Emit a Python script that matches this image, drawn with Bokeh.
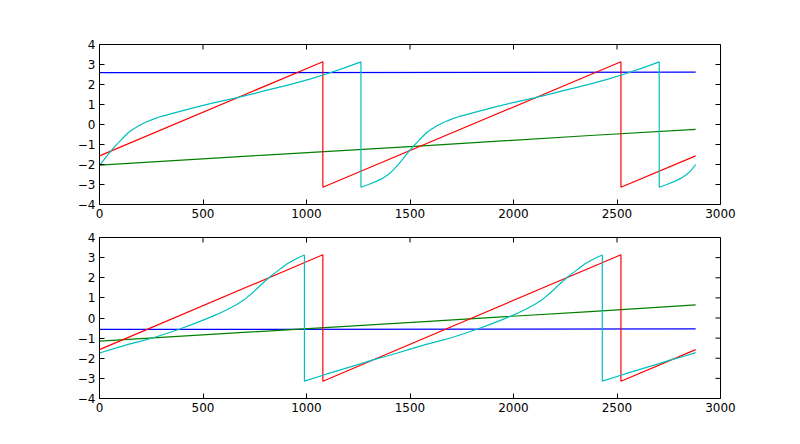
from bokeh.plotting import figure
from bokeh.layouts import column
from bokeh.models import Range1d, FixedTicker, CustomJSTickFormatter
from bokeh.embed import file_html
from bokeh.resources import INLINE

# ---------------- data ----------------
x_ticks = [0, 500, 1000, 1500, 2000, 2500, 3000]
y_ticks = [-4, -3, -2, -1, 0, 1, 2, 3, 4]

# red sawtooth (same in both panels)
red_x = [0, 1079, 1079, 2519, 2519, 2880]
red_y = [-1.57, 3.14, -3.14, 3.14, -3.14, -1.57]

# top panel
top_blue_x = [0, 2880]
top_blue_y = [2.59, 2.62]
top_green_x = [0, 800, 1600, 2370, 2880]
top_green_y = [-2.03, -1.53, -1.04, -0.55, -0.24]
top_cyan_x = [0, 20, 40, 60, 80, 100, 120, 140, 160, 190, 220, 260, 300, 380, 462,
              550, 655, 720, 800, 870, 937, 1020, 1099, 1180, 1263,
              1263, 1300, 1340, 1370, 1395, 1415, 1441,
              1461, 1481, 1501, 1521, 1541, 1561, 1581, 1601, 1631, 1661, 1701, 1741,
              1821, 1903, 1991, 2096, 2161, 2241, 2311, 2378, 2461, 2540, 2621, 2704,
              2704, 2741, 2781, 2811, 2836, 2856, 2880]
top_cyan_y = [-2.04, -1.78, -1.52, -1.27, -1.03, -0.82, -0.6, -0.4, -0.25, -0.06, 0.1, 0.27, 0.41, 0.63, 0.86,
              1.08, 1.32, 1.48, 1.69, 1.87, 2.04, 2.28, 2.54, 2.82, 3.13,
              -3.14, -3.0, -2.83, -2.68, -2.5, -2.32, -2.03,
              -1.78, -1.52, -1.27, -1.03, -0.82, -0.6, -0.4, -0.25, -0.06, 0.1, 0.27, 0.41,
              0.63, 0.86, 1.08, 1.32, 1.48, 1.69, 1.87, 2.04, 2.28, 2.54, 2.82, 3.13,
              -3.14, -3.0, -2.83, -2.68, -2.5, -2.32, -2.0]

# bottom panel
bot_blue_x = [0, 2880]
bot_blue_y = [-0.57, -0.54]
bot_green_x = [0, 1550, 2370, 2880]
bot_green_y = [-1.15, -0.19, 0.32, 0.65]
bot_cyan_x = [0, 70, 139, 200, 260, 320, 381, 445, 510, 570, 623, 665, 704, 737, 768,
              800, 830, 853, 873, 905, 937, 965, 990,
              990, 1099, 1180, 1260, 1325, 1389, 1439,
              1509, 1578, 1639, 1699, 1759, 1820, 1884, 1949, 2009, 2062, 2104, 2143,
              2176, 2207, 2239, 2269, 2292, 2312, 2344, 2376, 2404, 2429,
              2429, 2538, 2619, 2699, 2764, 2828, 2880]
bot_cyan_y = [-1.74, -1.52, -1.31, -1.15, -0.98, -0.78, -0.57, -0.33, -0.07, 0.19, 0.45, 0.68, 0.95, 1.23, 1.53,
              1.84, 2.1, 2.28, 2.44, 2.68, 2.87, 3.02, 3.13,
              -3.14, -2.78, -2.53, -2.28, -2.07, -1.89, -1.74,
              -1.52, -1.31, -1.15, -0.98, -0.78, -0.57, -0.33, -0.07, 0.19, 0.45, 0.68, 0.95,
              1.23, 1.53, 1.84, 2.1, 2.28, 2.44, 2.68, 2.87, 3.02, 3.13,
              -3.14, -2.78, -2.53, -2.28, -2.07, -1.89, -1.72]

BLUE = "#0000ff"
GREEN = "#008000"
RED = "#ff0000"
CYAN = "#00bfbf"
FONT = "DejaVu Sans"

FRAME_W = 621
TICK_PX = 5

minus_fmt = "return tick < 0 ? '\\u2212' + Math.abs(tick) : String(tick);"


def make_panel(border_top, border_bottom, frame_h, series):
    xr = Range1d(0, 3000)
    yr = Range1d(-4, 4)
    p = figure(frame_width=FRAME_W, frame_height=frame_h,
               x_range=xr, y_range=yr,
               output_backend="svg", toolbar_location=None,
               min_border_left=99, min_border_right=60,
               min_border_top=border_top, min_border_bottom=border_bottom,
               background_fill_color="white", border_fill_color="white")
    p.outline_line_color = "black"
    p.outline_line_width = 1
    p.xgrid.visible = False
    p.ygrid.visible = False

    for ax, ticks in ((p.xaxis[0], x_ticks), (p.yaxis[0], y_ticks)):
        ax.ticker = FixedTicker(ticks=ticks)
        ax.formatter = CustomJSTickFormatter(code=minus_fmt)
        ax.major_tick_in = TICK_PX
        ax.major_tick_out = 0
        ax.minor_tick_line_color = None
        ax.axis_line_color = "black"
        ax.major_tick_line_color = "black"
        ax.major_label_text_font = FONT
        ax.major_label_text_font_size = "12px"
        ax.major_label_text_color = "black"
        ax.major_label_standoff = 4

    for xs, ys, col in series:
        p.line(xs, ys, line_color=col, line_width=1.2)

    # inward ticks on the top and right edges of the frame (mirroring matplotlib)
    dy = TICK_PX * (yr.end - yr.start) / frame_h
    dx = TICK_PX * (xr.end - xr.start) / FRAME_W
    p.segment(x0=x_ticks, y0=[yr.end] * len(x_ticks),
              x1=x_ticks, y1=[yr.end - dy] * len(x_ticks),
              line_color="black", line_width=1)
    p.segment(x0=[xr.end] * len(y_ticks), y0=y_ticks,
              x1=[xr.end - dx] * len(y_ticks), y1=y_ticks,
              line_color="black", line_width=1)
    return p


p1 = make_panel(44, 25, 160, [
    (top_blue_x, top_blue_y, BLUE),
    (top_green_x, top_green_y, GREEN),
    (red_x, red_y, RED),
    (top_cyan_x, top_cyan_y, CYAN),
])
p2 = make_panel(8, 30, 161, [
    (bot_blue_x, bot_blue_y, BLUE),
    (bot_green_x, bot_green_y, GREEN),
    (red_x, red_y, RED),
    (bot_cyan_x, bot_cyan_y, CYAN),
])

layout = column(p1, p2, spacing=0)
open("out.html", "w").write(file_html(layout, INLINE))
